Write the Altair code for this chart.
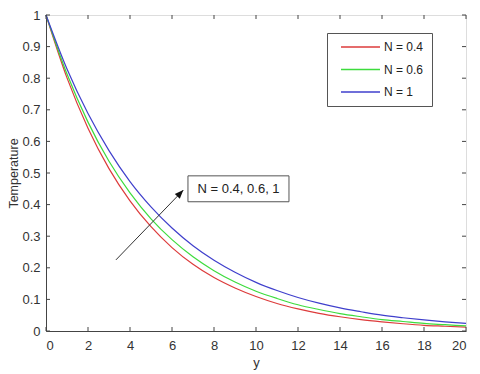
import altair as alt
import pandas as pd

# ---- data ----
y_pos = list(range(21))
n04 = [1.0, 0.801, 0.642, 0.514, 0.412, 0.330, 0.264, 0.211, 0.169, 0.136, 0.109,
       0.087, 0.070, 0.056, 0.045, 0.036, 0.029, 0.023, 0.018, 0.015, 0.012]
n06 = [1.0, 0.813, 0.661, 0.537, 0.437, 0.355, 0.289, 0.235, 0.191, 0.155, 0.126,
       0.103, 0.083, 0.068, 0.055, 0.045, 0.036, 0.030, 0.024, 0.020, 0.016]
n1 = [1.0, 0.829, 0.688, 0.571, 0.473, 0.393, 0.326, 0.270, 0.224, 0.186, 0.154,
      0.128, 0.106, 0.088, 0.073, 0.061, 0.050, 0.042, 0.035, 0.029, 0.024]
series_names = ["N = 0.4", "N = 0.6", "N = 1"]
series_colors = ["#dd3b3b", "#3ddc3d", "#3f3fcc"]
x_ticks = [0, 2, 4, 6, 8, 10, 12, 14, 16, 18, 20]
y_ticks = [0, 0.1, 0.2, 0.3, 0.4, 0.5, 0.6, 0.7, 0.8, 0.9, 1.0]

# annotation (data units)
arrow_start = (3.33, 0.225)
arrow_tip = (6.54, 0.446)
box_x = (6.76, 11.57)
box_y = (0.409, 0.491)
note_text = "N = 0.4, 0.6, 1"
note_pos = (9.17, 0.45)

FONT = "Liberation Sans"
W, H = 420, 316

rows = []
for name, vals in zip(series_names, [n04, n06, n1]):
    for xv, tv in zip(y_pos, vals):
        rows.append({"y": xv, "T": tv, "N": name})
df = pd.DataFrame(rows)

xs = alt.Scale(domain=[0, 20], nice=False, zero=False)
ys = alt.Scale(domain=[0, 1], nice=False, zero=False)

ax_x = alt.Axis(values=x_ticks, ticks=False, labelPadding=8, titlePadding=4,
                grid=False, domainColor="#444", labelColor="#333",
                titleColor="#333", labelFontSize=13, titleFontSize=13,
                titleFontWeight="normal", labelFont=FONT, titleFont=FONT,
                labelOverlap=False)
ax_y = alt.Axis(values=y_ticks, format="~g", ticks=False, labelPadding=6,
                titlePadding=1, grid=False, domainColor="#444",
                labelColor="#333", titleColor="#333", labelFontSize=13,
                titleFontSize=12.5, titleFontWeight="normal",
                labelFont=FONT, titleFont=FONT, labelOverlap=False)


def X(field):
    return alt.X(field, scale=xs, axis=ax_x, title="y")


def Y(field):
    return alt.Y(field, scale=ys, axis=ax_y, title="Temperature")


lines = alt.Chart(df).mark_line(strokeWidth=1.2, interpolate="monotone").encode(
    x=X("y:Q"),
    y=Y("T:Q"),
    color=alt.Color("N:N", scale=alt.Scale(domain=series_names, range=series_colors),
                    legend=alt.Legend(title=None, orient="none", legendX=281, legendY=18,
                                      padding=8, fillColor="white", strokeColor="#555",
                                      labelFont=FONT, labelFontSize=12, labelColor="#222",
                                      symbolType="stroke", symbolSize=1521,
                                      symbolStrokeWidth=1.3, clipHeight=12,
                                      symbolOffset=5, labelOffset=3,
                                      rowPadding=10.5)),
)

xt = pd.DataFrame({"v": x_ticks})
yt = pd.DataFrame({"v": y_ticks})
tick_style = dict(color="#444", strokeWidth=1)
tb = alt.Chart(xt).mark_rule(**tick_style).encode(
    x=X("v:Q"), y=alt.value(H), y2=alt.value(H - 4))
tt = alt.Chart(xt).mark_rule(**tick_style).encode(
    x=X("v:Q"), y=alt.value(0), y2=alt.value(4))
tl = alt.Chart(yt).mark_rule(**tick_style).encode(
    y=Y("v:Q"), x=alt.value(0), x2=alt.value(4))
tr = alt.Chart(yt).mark_rule(**tick_style).encode(
    y=Y("v:Q"), x=alt.value(W), x2=alt.value(W - 4))

arrow_df = pd.DataFrame([{"x": arrow_start[0], "y": arrow_start[1],
                          "x2": arrow_tip[0], "y2": arrow_tip[1]}])
arrow_line = alt.Chart(arrow_df).mark_rule(color="#333", strokeWidth=1).encode(
    x=X("x:Q"), y=Y("y:Q"), x2="x2:Q", y2="y2:Q")
head_df = pd.DataFrame([{"x": arrow_tip[0], "y": arrow_tip[1]}])
arrow_head = alt.Chart(head_df).mark_point(
    shape="M0,0L-0.4,1L0.4,1Z", filled=True, color="#111", opacity=1,
    size=300, angle=44, strokeWidth=0).encode(x=X("x:Q"), y=Y("y:Q"))

box_df = pd.DataFrame([{"x": box_x[0], "x2": box_x[1], "y": box_y[0], "y2": box_y[1],
                        "tx": note_pos[0], "ty": note_pos[1], "t": note_text}])
box = alt.Chart(box_df).mark_rect(fill="white", stroke="#555", strokeWidth=1).encode(
    x=X("x:Q"), x2="x2:Q", y=Y("y:Q"), y2="y2:Q")
note = alt.Chart(box_df).mark_text(font=FONT, fontSize=13, color="#222",
                                   align="center", baseline="middle").encode(
    x=X("tx:Q"), y=Y("ty:Q"), text="t:N")

chart = alt.layer(lines, tb, tt, tl, tr, arrow_line, arrow_head, box, note).properties(
    width=W, height=H,
    autosize=alt.AutoSizeParams(type="none"),
    padding={"left": 38, "top": 7, "right": 6, "bottom": 40},
).configure_view(stroke="#444", strokeWidth=1).configure_axis(
    labelOverlap=False).configure(background="white")

chart.save("out.html", embed_options={"renderer": "svg", "actions": False})
